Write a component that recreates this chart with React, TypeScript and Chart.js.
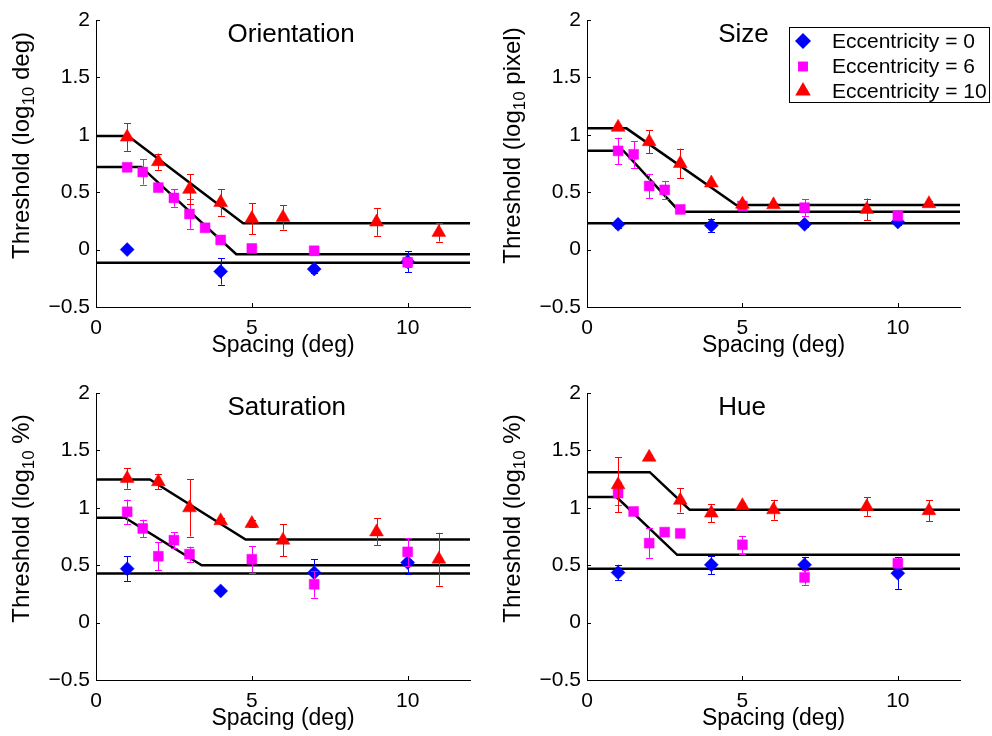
import React, { useEffect, useRef } from 'react';
import { Chart, registerables } from 'chart.js';

Chart.register(...registerables);
Chart.defaults.font.family = '"Liberation Sans", Arial, Helvetica, sans-serif';
Chart.defaults.color = '#000';

// ---------- shared axis data ----------
const xTicks = [0, 5, 10];
const yTicks = [-0.5, 0, 0.5, 1, 1.5, 2];
const legendLabels = ['Eccentricity = 0', 'Eccentricity = 6', 'Eccentricity = 10'];
const seriesColors = ['#0000ff', '#ff00ff', '#ff0000'];
const seriesShapes = ['rectRot', 'rect', 'triangle'];
const seriesRadius = [7, 7, 8];

// spacing (deg) per eccentricity
const spacingEcc0 = [1, 4, 7, 10];
const spacingEcc6Orient = [1, 1.5, 2, 2.5, 3, 3.5, 4, 5, 7, 10];
const spacingEcc6 = [1, 1.5, 2, 2.5, 3, 5, 7, 10];
const spacingEcc10 = [1, 2, 3, 4, 5, 6, 9, 11];

// ---------- Orientation ----------
const orientEcc0 = [0.0, -0.19, -0.17, -0.105];
const orientEcc0Err = [0, 0.115, 0.03, 0.09];
const orientEcc6 = [0.717, 0.676, 0.54, 0.45, 0.31, 0.19, 0.084, 0.01, -0.01, -0.11];
const orientEcc6Err = [0.03, 0.11, 0.03, 0.077, 0.13, 0.03, 0.03, 0.02, 0.03, 0.04];
const orientEcc10 = [0.98, 0.766, 0.525, 0.41, 0.27, 0.28, 0.24, 0.15];
const orientEcc10Err = [0.12, 0.07, 0.13, 0.115, 0.135, 0.105, 0.12, 0.08];
const orientFit0X = [0, 12];
const orientFit0Y = [-0.114, -0.114];
const orientFit6X = [0, 1.45, 4.5, 12];
const orientFit6Y = [0.72, 0.72, -0.04, -0.04];
const orientFit10X = [0, 1.03, 4.72, 12];
const orientFit10Y = [0.99, 0.99, 0.23, 0.23];

// ---------- Size ----------
const sizeEcc0 = [0.22, 0.21, 0.22, 0.24];
const sizeEcc0Err = [0.03, 0.06, 0.02, 0.03];
const sizeEcc6 = [0.86, 0.83, 0.554, 0.52, 0.35, 0.38, 0.365, 0.295];
const sizeEcc6Err = [0.115, 0.115, 0.105, 0.075, 0.02, 0.03, 0.075, 0.02];
const sizeEcc10 = [1.065, 0.94, 0.75, 0.58, 0.395, 0.39, 0.35, 0.4];
const sizeEcc10Err = [0.02, 0.1, 0.13, 0.02, 0.03, 0.02, 0.095, 0.02];
const sizeFit0X = [0, 12];
const sizeFit0Y = [0.229, 0.229];
const sizeFit6X = [0, 1.17, 2.98, 12];
const sizeFit6Y = [0.862, 0.862, 0.33, 0.33];
const sizeFit10X = [0, 1.27, 4.8, 12];
const sizeFit10Y = [1.056, 1.056, 0.389, 0.389];

// ---------- Saturation ----------
const satEcc0 = [0.47, 0.276, 0.435, 0.523];
const satEcc0Err = [0.107, 0, 0.116, 0.1];
const satEcc6 = [0.965, 0.82, 0.578, 0.718, 0.596, 0.552, 0.334, 0.616];
const satEcc6Err = [0.107, 0.077, 0.12, 0.07, 0.065, 0.116, 0.116, 0.12];
const satEcc10 = [1.256, 1.227, 1.0, 0.887, 0.863, 0.718, 0.79, 0.552];
const satEcc10Err = [0.09, 0.065, 0.25, 0.02, 0.03, 0.14, 0.117, 0.23];
const satFit0X = [0, 12];
const satFit0Y = [0.427, 0.427];
const satFit6X = [0, 0.93, 3.39, 12];
const satFit6Y = [0.913, 0.913, 0.5, 0.5];
const satFit10X = [0, 1.73, 4.8, 12];
const satFit10Y = [1.247, 1.247, 0.723, 0.723];

// ---------- Hue ----------
const hueEcc0 = [0.436, 0.503, 0.503, 0.43];
const hueEcc0Err = [0.068, 0.08, 0.07, 0.14];
const hueEcc6 = [1.128, 0.968, 0.692, 0.788, 0.777, 0.678, 0.393, 0.517];
const hueEcc6Err = [0.1, 0, 0.128, 0, 0, 0.078, 0.063, 0.02];
const hueEcc10 = [1.2, 1.44, 1.065, 0.954, 1.018, 0.983, 1.01, 0.975];
const hueEcc10Err = [0.24, 0.02, 0.106, 0.08, 0.02, 0.087, 0.08, 0.09];
const hueFit0X = [0, 12];
const hueFit0Y = [0.468, 0.468];
const hueFit6X = [0, 0.95, 2.9, 12];
const hueFit6Y = [1.093, 1.093, 0.59, 0.59];
const hueFit10X = [0, 2.02, 3.3, 12];
const hueFit10Y = [1.31, 1.31, 0.983, 0.983];

const panelTitles = ['Orientation', 'Size', 'Saturation', 'Hue'];
const panelUnits = ['deg', 'pixel', '%', '%'];
const titleAnchor = { x: 4.22, y: 1.87 };

type Series = { x: number[]; y: number[]; err: number[] };
type Fit = { x: number[]; y: number[] };

const panelSeries: Series[][] = [
  [
    { x: spacingEcc0, y: orientEcc0, err: orientEcc0Err },
    { x: spacingEcc6Orient, y: orientEcc6, err: orientEcc6Err },
    { x: spacingEcc10, y: orientEcc10, err: orientEcc10Err },
  ],
  [
    { x: spacingEcc0, y: sizeEcc0, err: sizeEcc0Err },
    { x: spacingEcc6, y: sizeEcc6, err: sizeEcc6Err },
    { x: spacingEcc10, y: sizeEcc10, err: sizeEcc10Err },
  ],
  [
    { x: spacingEcc0, y: satEcc0, err: satEcc0Err },
    { x: spacingEcc6, y: satEcc6, err: satEcc6Err },
    { x: spacingEcc10, y: satEcc10, err: satEcc10Err },
  ],
  [
    { x: spacingEcc0, y: hueEcc0, err: hueEcc0Err },
    { x: spacingEcc6, y: hueEcc6, err: hueEcc6Err },
    { x: spacingEcc10, y: hueEcc10, err: hueEcc10Err },
  ],
];

const panelFits: Fit[][] = [
  [
    { x: orientFit0X, y: orientFit0Y },
    { x: orientFit6X, y: orientFit6Y },
    { x: orientFit10X, y: orientFit10Y },
  ],
  [
    { x: sizeFit0X, y: sizeFit0Y },
    { x: sizeFit6X, y: sizeFit6Y },
    { x: sizeFit10X, y: sizeFit10Y },
  ],
  [
    { x: satFit0X, y: satFit0Y },
    { x: satFit6X, y: satFit6Y },
    { x: satFit10X, y: satFit10Y },
  ],
  [
    { x: hueFit0X, y: hueFit0Y },
    { x: hueFit6X, y: hueFit6Y },
    { x: hueFit10X, y: hueFit10Y },
  ],
];

// ---------- layout ----------
const CW = 496;
const CH = 368;
const panelBoxes = [
  { left: 0, top: 0, area: { left: 96, right: 470, top: 20, bottom: 307 } },
  { left: 496, top: 0, area: { left: 91, right: 464, top: 20, bottom: 307 } },
  { left: 0, top: 368, area: { left: 96, right: 470, top: 25, bottom: 312 } },
  { left: 496, top: 368, area: { left: 91, right: 464, top: 25, bottom: 312 } },
];

const FONT = '"Liberation Sans", Arial, Helvetica, sans-serif';

function shapePath(ctx: CanvasRenderingContext2D, shape: string, x: number, y: number, r: number) {
  ctx.beginPath();
  if (shape === 'rectRot') {
    ctx.moveTo(x - r, y);
    ctx.lineTo(x, y - r);
    ctx.lineTo(x + r, y);
    ctx.lineTo(x, y + r);
  } else if (shape === 'rect') {
    const s = r * Math.SQRT1_2;
    ctx.rect(x - s, y - s, 2 * s, 2 * s);
  } else {
    ctx.moveTo(x, y - r);
    ctx.lineTo(x + r * 0.866, y + r * 0.5);
    ctx.lineTo(x - r * 0.866, y + r * 0.5);
  }
  ctx.closePath();
}

const errorBarPlugin = {
  id: 'errorBars',
  beforeDatasetDraw(chart: any, args: any) {
    const ds = chart.data.datasets[args.index];
    if (!ds.errors) return;
    const ctx = chart.ctx;
    const xs = chart.scales.x;
    const ys = chart.scales.y;
    ctx.save();
    ctx.strokeStyle = ds.borderColor;
    ctx.lineWidth = 1;
    ds.data.forEach((p: any, i: number) => {
      const e = ds.errors[i];
      if (!e) return;
      const px = Math.round(xs.getPixelForValue(p.x)) + 0.5;
      const y1 = ys.getPixelForValue(p.y + e);
      const y2 = ys.getPixelForValue(p.y - e);
      ctx.beginPath();
      ctx.moveTo(px, y1);
      ctx.lineTo(px, y2);
      ctx.moveTo(px - 3.5, Math.round(y1) + 0.5);
      ctx.lineTo(px + 3.5, Math.round(y1) + 0.5);
      ctx.moveTo(px - 3.5, Math.round(y2) + 0.5);
      ctx.lineTo(px + 3.5, Math.round(y2) + 0.5);
      ctx.stroke();
    });
    ctx.restore();
  },
};

const decorPlugin = {
  id: 'decor',
  afterDraw(chart: any) {
    const opts = chart.options.plugins.decor;
    const ctx: CanvasRenderingContext2D = chart.ctx;
    const ca = chart.chartArea;
    const xs = chart.scales.x;
    const ys = chart.scales.y;
    ctx.save();
    // inward tick marks
    ctx.strokeStyle = '#000';
    ctx.lineWidth = 1;
    ctx.beginPath();
    xTicks.forEach((v) => {
      const px = Math.round(xs.getPixelForValue(v)) + 0.5;
      ctx.moveTo(px, ca.bottom);
      ctx.lineTo(px, ca.bottom - 4);
    });
    yTicks.forEach((v) => {
      const py = Math.round(ys.getPixelForValue(v)) + 0.5;
      ctx.moveTo(ca.left, py);
      ctx.lineTo(ca.left + 4, py);
    });
    ctx.stroke();

    // panel title
    ctx.fillStyle = '#000';
    ctx.font = `26px ${FONT}`;
    ctx.textAlign = 'left';
    ctx.textBaseline = 'middle';
    ctx.fillText(opts.title, xs.getPixelForValue(titleAnchor.x), ys.getPixelForValue(titleAnchor.y));

    // x axis title
    ctx.font = `23px ${FONT}`;
    ctx.textAlign = 'center';
    ctx.textBaseline = 'alphabetic';
    ctx.fillText('Spacing (deg)', (ca.left + ca.right) / 2, ca.bottom + 45);

    // y axis title with subscript
    const main = 'Threshold (log';
    const sub = '10';
    const tail = ' ' + opts.unit + ')';
    ctx.translate(ca.left - 67, (ca.top + ca.bottom) / 2 - 18);
    ctx.rotate(-Math.PI / 2);
    ctx.font = `24px ${FONT}`;
    const w1 = ctx.measureText(main).width;
    const w3 = ctx.measureText(tail).width;
    ctx.font = `17px ${FONT}`;
    const w2 = ctx.measureText(sub).width;
    let x0 = -(w1 + w2 + w3) / 2;
    ctx.textAlign = 'left';
    ctx.font = `24px ${FONT}`;
    ctx.fillText(main, x0, 0);
    ctx.font = `17px ${FONT}`;
    ctx.fillText(sub, x0 + w1, 5);
    ctx.font = `24px ${FONT}`;
    ctx.fillText(tail, x0 + w1 + w2, 0);
    ctx.restore();

    // legend
    if (opts.legend) {
      ctx.save();
      const bx = 293.5, by = 27.5, bw = 200, bh = 75;
      ctx.fillStyle = '#fff';
      ctx.fillRect(bx, by, bw, bh);
      ctx.strokeStyle = '#000';
      ctx.lineWidth = 1;
      ctx.strokeRect(bx, by, bw, bh);
      const rows = [41, 66.5, 91];
      const legendR = [8, 7, 9];
      ctx.font = `21px ${FONT}`;
      ctx.textAlign = 'left';
      ctx.textBaseline = 'middle';
      legendLabels.forEach((lab, i) => {
        ctx.fillStyle = seriesColors[i];
        shapePath(ctx, seriesShapes[i], 307, rows[i], legendR[i]);
        ctx.fill();
        ctx.fillStyle = '#000';
        ctx.fillText(lab, 336, rows[i] + 1);
      });
      ctx.restore();
    }
  },
};

function fmtTick(v: number) {
  if (v < 0) return '\u2212' + String(Math.abs(v));
  return String(v);
}

function Panel({ index }: { index: number }) {
  const ref = useRef<HTMLCanvasElement | null>(null);
  useEffect(() => {
    if (!ref.current) return;
    const box = panelBoxes[index];
    const a = box.area;
    const datasets: any[] = [];
    panelSeries[index].forEach((s, i) => {
      datasets.push({
        label: legendLabels[i],
        data: s.x.map((xv, j) => ({ x: xv, y: s.y[j] })),
        errors: s.err,
        showLine: false,
        pointStyle: seriesShapes[i],
        pointRadius: seriesRadius[i],
        pointHoverRadius: seriesRadius[i],
        backgroundColor: seriesColors[i],
        borderColor: seriesColors[i],
        pointBorderWidth: 0.5,
        order: 3 - i,
      });
    });
    panelFits[index].forEach((f, i) => {
      datasets.push({
        label: 'fit ' + legendLabels[i],
        data: f.x.map((xv, j) => ({ x: xv, y: f.y[j] })),
        showLine: true,
        pointRadius: 0,
        borderColor: '#000',
        backgroundColor: '#000',
        borderWidth: 2.5,
        tension: 0,
        order: 10 + i,
      });
    });
    const chart = new Chart(ref.current, {
      type: 'scatter',
      data: { datasets },
      plugins: [errorBarPlugin, decorPlugin],
      options: {
        animation: false,
        responsive: false,
        maintainAspectRatio: false,
        events: [],
        layout: { padding: { left: 0, top: a.top, right: CW - a.right, bottom: 0 } },
        plugins: {
          legend: { display: false },
          tooltip: { enabled: false },
          title: { display: false },
          decor: { title: panelTitles[index], unit: panelUnits[index], legend: index === 1 },
        } as any,
        scales: {
          x: {
            type: 'linear',
            min: 0,
            max: 12,
            grid: { display: false, drawTicks: false },
            border: { display: true, color: '#000', width: 1 },
            ticks: { stepSize: 5, color: '#000', font: { size: 21 }, padding: 9, maxRotation: 0, autoSkip: false },
            afterBuildTicks: (s: any) => {
              s.ticks = xTicks.map((v) => ({ value: v }));
            },
            afterFit: (s: any) => {
              s.height = CH - a.bottom;
            },
          },
          y: {
            type: 'linear',
            min: -0.5,
            max: 2,
            grid: { display: false, drawTicks: false },
            border: { display: true, color: '#000', width: 1 },
            ticks: {
              stepSize: 0.5,
              color: '#000',
              font: { size: 21 },
              padding: 6,
              autoSkip: false,
              callback: (v: any) => fmtTick(Number(v)),
            },
            afterBuildTicks: (s: any) => {
              s.ticks = yTicks.map((v) => ({ value: v }));
            },
            afterFit: (s: any) => {
              s.width = a.left;
            },
          },
        },
      } as any,
    });
    return () => chart.destroy();
  }, [index]);
  const box = panelBoxes[index];
  return (
    <canvas
      ref={ref}
      width={CW}
      height={CH}
      style={{ position: 'absolute', left: box.left, top: box.top, width: CW, height: CH, display: 'block' }}
    />
  );
}

export default function App() {
  return (
    <div style={{ position: 'absolute', left: 0, top: 0, width: 992, height: 736, background: '#fff', overflow: 'hidden' }}>
      {[0, 1, 2, 3].map((i) => (
        <Panel key={i} index={i} />
      ))}
    </div>
  );
}
